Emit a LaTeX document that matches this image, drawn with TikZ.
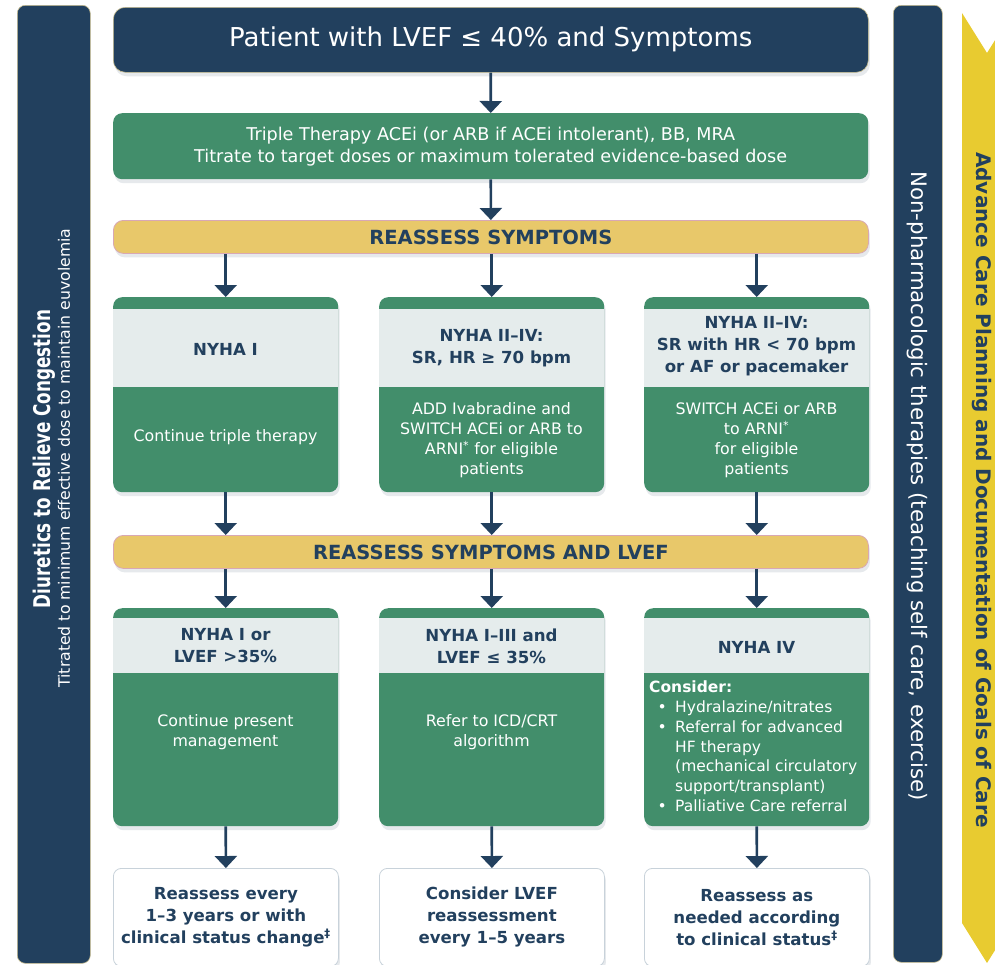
\documentclass[tikz,border=0pt]{standalone}
\usepackage{fontspec}
\setmainfont{DejaVu Sans}
\newfontfamily\condfont[FakeStretch=0.73]{DejaVu Sans}
\usetikzlibrary{arrows.meta,shadows}
\definecolor{navy}{HTML}{22405E}
\definecolor{hfgreen}{HTML}{428E6B}
\definecolor{barY}{HTML}{E8C86A}
\definecolor{barEdge}{HTML}{D8A8B4}
\definecolor{chevY}{HTML}{E8CB30}
\definecolor{headG}{HTML}{E5ECEC}
\definecolor{wbord}{HTML}{C8D2DA}
\definecolor{tanEdge}{HTML}{C9BE90}
\newcommand\triframe[6]{%
  \node[greenbox, softshadow, minimum width=225pt, minimum height={#6-#3}, anchor=north west] (#1) at (#2,#3) {};
  \fill[headG] (#2,#4) rectangle ({#2+225},#5);
}
\begin{document}
\begin{tikzpicture}[x=1pt,y=-1pt,
  softshadow/.style={drop shadow={shadow xshift=1.5pt,shadow yshift=-4pt,opacity=0.16,fill=navy!70}},
  navybox/.style={fill=navy, draw=tanEdge, line width=0.6pt, rounded corners=12pt, inner sep=0pt},
  sidebar/.style={fill=navy, draw=tanEdge, line width=0.6pt, rounded corners=8pt, inner sep=0pt},
  greenbox/.style={fill=hfgreen, rounded corners=9pt, inner sep=0pt},
  ybar/.style={fill=barY, draw=barEdge, line width=0.8pt, rounded corners=10pt, inner sep=0pt, text=navy, font=\bfseries\fontsize{19.5}{21}\selectfont, softshadow},
  wbox/.style={fill=white, draw=wbord, line width=0.8pt, rounded corners=8pt, inner sep=0pt, text=navy, align=center, font=\bfseries\fontsize{16.6}{22}\selectfont, softshadow},
  headtxt/.style={text=navy, align=center, font=\bfseries\fontsize{16.6}{22}\selectfont, inner sep=0pt},
  bodytxt/.style={text=white, align=center, font=\fontsize{15.8}{20}\selectfont, inner sep=0pt},
  arr/.style={draw=navy, line width=2.6pt, -{Triangle[width=22pt,length=12pt]}}
]
\useasboundingbox (0,0) rectangle (995,964);
\fill[white] (0,0) rectangle (995,964);

% side bars
\node[sidebar, minimum width=73pt, minimum height=958pt, anchor=north west] (lbar) at (17,5) {};
\node[rotate=90, text=white, font=\condfont\bfseries\fontsize{23}{26}\selectfont] (lbt) at (44,459) {Diuretics to Relieve Congestion};
\node[rotate=90, text=white, font=\fontsize{15.7}{18}\selectfont] (lst) at (64,458) {Titrated to minimum effective dose to maintain euvolemia};

\node[sidebar, minimum width=49pt, minimum height=957pt, anchor=north west] (rbar) at (893,5) {};
\node[rotate=-90, text=white, font=\fontsize{21.3}{24}\selectfont] (rbt) at (917,486) {Non-pharmacologic therapies (teaching self care, exercise)};

\fill[chevY] (962,13) -- (987,53) -- (1012,13) -- (1012,923) -- (987,963) -- (962,923) -- cycle;
\node[rotate=-90, text=navy, font=\bfseries\fontsize{20}{24}\selectfont] (cht) at (982,490) {Advance Care Planning and Documentation of Goals of Care};

% top
\node[navybox, softshadow, minimum width=755pt, minimum height=65pt, anchor=north west, text=white, font=\fontsize{26}{30}\selectfont] (top) at (113,7) {Patient with LVEF ≤ 40\% and Symptoms};
\node[greenbox, softshadow, minimum width=755pt, minimum height=66pt, anchor=north west, text=white, align=center, font=\fontsize{17.6}{22}\selectfont] (tt) at (113,113) {Triple Therapy ACEi (or ARB if ACEi intolerant), BB, MRA\\Titrate to target doses or maximum tolerated evidence-based dose};
\node[ybar, minimum width=755pt, minimum height=33pt, anchor=north west] (r1) at (113,220) {REASSESS SYMPTOMS};

% row 1
\triframe{a1}{113}{297}{309}{387}{492}
\triframe{a2}{379}{297}{309}{387}{492}
\triframe{a3}{644}{297}{309}{387}{492}
\node[headtxt] (a1h) at (225.5,349) {NYHA I};
\node[headtxt] (a2h) at (491.5,348) {NYHA II–IV:\\SR, HR ≥ 70 bpm};
\node[headtxt] (a3h) at (756.5,346) {NYHA II–IV:\\SR with HR < 70 bpm\\or AF or pacemaker};
\node[bodytxt] (a1b) at (225.5,437) {Continue triple therapy};
\node[bodytxt] (a2b) at (491.5,440) {ADD Ivabradine and\\SWITCH ACEi or ARB to\\ARNI\textsuperscript{*} for eligible\\patients};
\node[bodytxt] (a3b) at (756.5,440) {SWITCH ACEi or ARB\\to ARNI\textsuperscript{*}\\for eligible\\patients};

\node[ybar, minimum width=755pt, minimum height=33pt, anchor=north west] (r2) at (113,535) {REASSESS SYMPTOMS AND LVEF};

% row 2
\triframe{b1}{113}{608}{618}{673}{826}
\triframe{b2}{379}{608}{618}{673}{826}
\triframe{b3}{644}{608}{618}{673}{826}
\node[headtxt] (b1h) at (225.5,646) {NYHA I or\\LVEF >35\%};
\node[headtxt] (b2h) at (491.5,646) {NYHA I–III and\\LVEF ≤ 35\%};
\node[headtxt] (b3h) at (756.5,647) {NYHA IV};
\node[bodytxt] (b1b) at (225.5,732) {Continue present\\management};
\node[bodytxt] (b2b) at (491.5,732) {Refer to ICD/CRT\\algorithm};
\node[anchor=north west, inner sep=0pt, text=white, align=left, font=\fontsize{15.5}{19.7}\selectfont] (b3b) at (649,681) {{\bfseries Consider:}\\
\makebox[26pt][c]{•}Hydralazine/nitrates\\
\makebox[26pt][c]{•}Referral for advanced\\
\hspace*{26pt}HF therapy\\
\hspace*{26pt}(mechanical circulatory\\
\hspace*{26pt}support/transplant)\\
\makebox[26pt][c]{•}Palliative Care referral};

% row 3
\node[wbox, minimum width=225pt, minimum height=98pt, anchor=north west] (c1) at (113,868) {Reassess every\\1–3 years or with\\clinical status change\textsuperscript{‡}};
\node[wbox, minimum width=225pt, minimum height=98pt, anchor=north west] (c2) at (379,868) {Consider LVEF\\reassessment\\every 1–5 years};
\node[wbox, minimum width=225pt, minimum height=98pt, anchor=north west] (c3) at (644,868) {Reassess as\\needed according\\to clinical status\textsuperscript{‡}};

% arrows
\draw[arr] (top) -- (tt);
\draw[arr] (tt) -- (r1);
\foreach \c in {1,2,3}{
  \draw[arr] (r1.south -| a\c) -- (a\c.north);
  \draw[arr] (a\c.south) -- (r2.north -| a\c);
  \draw[arr] (r2.south -| b\c) -- (b\c.north);
  \draw[arr] (b\c.south) -- (c\c.north);
}
\end{tikzpicture}
\end{document}
